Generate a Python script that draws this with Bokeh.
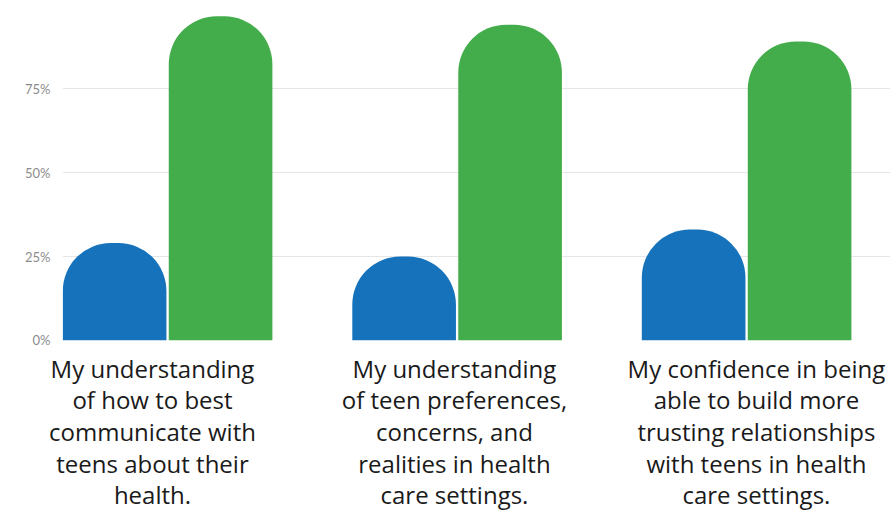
from bokeh.plotting import figure
from bokeh.models import Range1d, FixedTicker
from bokeh.layouts import column
from bokeh.embed import file_html
from bokeh.resources import INLINE
import numpy as np

categories = [
    "My understanding\nof how to best\ncommunicate with\nteens about their\nhealth.",
    "My understanding\nof teen preferences,\nconcerns, and\nrealities in health\ncare settings.",
    "My confidence in being\nable to build more\ntrusting relationships\nwith teens in health\ncare settings.",
]
before = [29, 25, 33]
after = [96.5, 94, 89]
y_ticks = [0, 25, 50, 75]
y_tick_labels = ["0%", "25%", "50%", "75%"]

BLUE = "#1673BB"
GREEN = "#42AD4A"

idx = np.arange(len(categories))

# ---- chart part ----
p = figure(width=890, height=347, output_backend="svg", toolbar_location=None,
           x_range=Range1d(-0.363, 2.497), y_range=Range1d(0, 100),
           x_axis_location=None,
           min_border_left=62, min_border_right=0, min_border_top=4, min_border_bottom=7)
p.outline_line_color = None
p.background_fill_color = "white"
p.border_fill_color = "white"

bw = 0.358
off = 0.183
p.vbar(x=idx - off, top=before, bottom=0, width=bw, fill_color=BLUE, line_color=None,
       border_radius=(48, 48, 0, 0))
p.vbar(x=idx + off, top=after, bottom=0, width=bw, fill_color=GREEN, line_color=None,
       border_radius=(48, 48, 0, 0))

p.yaxis.ticker = FixedTicker(ticks=y_ticks)
p.yaxis.major_label_overrides = {t: l for t, l in zip(y_ticks, y_tick_labels)}
p.yaxis.axis_line_color = None
p.yaxis.major_tick_line_color = None
p.yaxis.minor_tick_line_color = None
p.yaxis.major_tick_out = 0
p.yaxis.major_label_standoff = 12
p.yaxis.major_label_text_font = "Lato"
p.yaxis.major_label_text_font_size = "13px"
p.yaxis.major_label_text_color = "#8c8c8c"
p.xgrid.grid_line_color = None
p.ygrid.grid_line_color = "#e6e6e6"
p.ygrid.grid_line_width = 1

# ---- category label strip (an x axis, so labels are not clipped) ----
q = figure(width=890, height=166, output_backend="svg", toolbar_location=None,
           x_range=Range1d(-0.298, 2.444), y_range=Range1d(0, 1),
           y_axis_location=None,
           min_border_left=62, min_border_right=0, min_border_top=0, min_border_bottom=0)
q.outline_line_color = None
q.grid.grid_line_color = None
q.background_fill_color = "white"
q.border_fill_color = "white"
q.xaxis.ticker = FixedTicker(ticks=list(idx))
q.xaxis.major_label_overrides = {int(i): c for i, c in zip(idx, categories)}
q.xaxis.axis_line_color = None
q.xaxis.major_tick_line_color = None
q.xaxis.minor_tick_line_color = None
q.xaxis.major_tick_out = 0
q.xaxis.major_tick_in = 0
q.xaxis.major_label_standoff = 4
q.xaxis.major_label_text_font = "Open Sans"
q.xaxis.major_label_text_font_size = "24px"
q.xaxis.major_label_text_color = "#1a1a1a"
q.xaxis.major_label_text_line_height = 0.96
q.xaxis.major_label_text_align = "center"

layout = column(p, q, spacing=0)
open("out.html", "w").write(file_html(layout, INLINE))
